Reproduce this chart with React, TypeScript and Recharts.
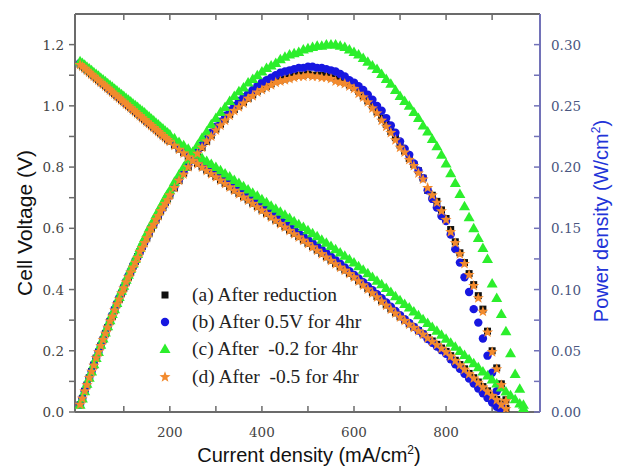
import React from "react";
import { ScatterChart, Scatter, XAxis, YAxis, Legend, Label } from "recharts";

// current density grid (mA/cm2)
const CURRENT = [
  5, 10, 15, 20, 25, 30, 35, 40, 45, 50, 55, 60, 65, 70, 75, 80, 85, 90, 95, 100,
  105, 110, 115, 120, 125, 130, 135, 140, 145, 150, 155, 160, 165, 170, 175, 180, 185, 190, 195, 200,
  210, 220, 230, 240, 250, 260, 270, 280, 290, 300, 310, 320, 330, 340, 350, 360, 370, 380, 390, 400,
  410, 420, 430, 440, 450, 460, 470, 480, 490, 500, 510, 520, 530, 540, 550, 560, 570, 580, 590, 600,
  610, 620, 630, 640, 650, 660, 670, 680, 690, 700, 710, 720, 730, 740, 750, 760, 770, 780, 790, 800,
  810, 820, 830, 840, 850, 860, 870, 880, 890, 900, 910, 920, 930,
];
const CURRENT_C_TAIL = [940, 950, 960, 968];

// (a) after reduction
const VOLT_A = [
  1.136, 1.13, 1.124, 1.117, 1.111, 1.104, 1.098, 1.091, 1.085, 1.078, 1.072, 1.066, 1.059, 1.053, 1.046, 1.04, 1.033, 1.027, 1.02, 1.014,
  1.007, 1.001, 0.995, 0.988, 0.982, 0.975, 0.969, 0.962, 0.956, 0.949, 0.943, 0.937, 0.93, 0.924, 0.917, 0.911, 0.904, 0.898, 0.891, 0.885,
  0.872, 0.859, 0.847, 0.834, 0.823, 0.812, 0.801, 0.79, 0.779, 0.769, 0.758, 0.747, 0.736, 0.725, 0.714, 0.703, 0.693, 0.682, 0.671, 0.66,
  0.649, 0.638, 0.627, 0.616, 0.605, 0.594, 0.583, 0.573, 0.562, 0.551, 0.54, 0.529, 0.518, 0.507, 0.496, 0.485, 0.474, 0.464, 0.453, 0.442,
  0.429, 0.416, 0.403, 0.39, 0.377, 0.363, 0.35, 0.337, 0.324, 0.311, 0.3, 0.288, 0.277, 0.266, 0.255, 0.243, 0.232, 0.221, 0.209, 0.198,
  0.184, 0.169, 0.155, 0.141, 0.126, 0.112, 0.098, 0.083, 0.069, 0.055, 0.041, 0.026, 0.012,
];
const POWER_A = [
  0.006, 0.011, 0.017, 0.022, 0.028, 0.033, 0.038, 0.044, 0.049, 0.054, 0.059, 0.064, 0.069, 0.074, 0.078, 0.083, 0.088, 0.092, 0.097, 0.101,
  0.106, 0.11, 0.114, 0.119, 0.123, 0.127, 0.131, 0.135, 0.139, 0.142, 0.146, 0.15, 0.153, 0.157, 0.16, 0.164, 0.167, 0.171, 0.174, 0.177,
  0.183, 0.189, 0.195, 0.2, 0.206, 0.211, 0.216, 0.221, 0.226, 0.231, 0.235, 0.239, 0.243, 0.247, 0.25, 0.253, 0.256, 0.259, 0.262, 0.264,
  0.266, 0.268, 0.27, 0.271, 0.272, 0.273, 0.274, 0.275, 0.275, 0.276, 0.275, 0.275, 0.275, 0.274, 0.273, 0.272, 0.27, 0.269, 0.267, 0.265,
  0.262, 0.258, 0.254, 0.25, 0.245, 0.24, 0.235, 0.229, 0.224, 0.218, 0.213, 0.207, 0.202, 0.197, 0.191, 0.181, 0.177, 0.172, 0.165, 0.158,
  0.149, 0.139, 0.13, 0.122, 0.113, 0.104, 0.095, 0.084, 0.066, 0.05, 0.036, 0.023, 0.01,
];

// (b) after 0.5V for 4hr
const VOLT_B = [
  1.14, 1.134, 1.128, 1.121, 1.115, 1.108, 1.102, 1.095, 1.089, 1.082, 1.076, 1.07, 1.063, 1.057, 1.05, 1.044, 1.037, 1.031, 1.024, 1.018,
  1.011, 1.005, 0.999, 0.992, 0.986, 0.979, 0.973, 0.966, 0.96, 0.953, 0.947, 0.941, 0.934, 0.928, 0.921, 0.915, 0.908, 0.902, 0.895, 0.889,
  0.877, 0.864, 0.852, 0.84, 0.829, 0.818, 0.808, 0.797, 0.787, 0.777, 0.766, 0.756, 0.746, 0.735, 0.725, 0.714, 0.704, 0.693, 0.683, 0.672,
  0.661, 0.651, 0.64, 0.629, 0.618, 0.607, 0.596, 0.585, 0.574, 0.563, 0.552, 0.541, 0.53, 0.519, 0.507, 0.496, 0.484, 0.472, 0.46, 0.448,
  0.436, 0.424, 0.411, 0.398, 0.385, 0.372, 0.358, 0.344, 0.33, 0.316, 0.303, 0.291, 0.278, 0.266, 0.254, 0.238, 0.226, 0.214, 0.202, 0.19,
  0.172, 0.156, 0.141, 0.125, 0.109, 0.093, 0.077, 0.061, 0.046, 0.031, 0.017, 0.005,
];
const POWER_B = [
  0.006, 0.011, 0.017, 0.022, 0.028, 0.033, 0.039, 0.044, 0.049, 0.054, 0.059, 0.064, 0.069, 0.074, 0.079, 0.084, 0.088, 0.093, 0.097, 0.102,
  0.106, 0.111, 0.115, 0.119, 0.123, 0.127, 0.131, 0.135, 0.139, 0.143, 0.147, 0.151, 0.154, 0.158, 0.161, 0.165, 0.168, 0.171, 0.175, 0.178,
  0.184, 0.19, 0.196, 0.202, 0.207, 0.213, 0.218, 0.223, 0.228, 0.233, 0.237, 0.242, 0.246, 0.25, 0.254, 0.257, 0.26, 0.263, 0.266, 0.269,
  0.271, 0.273, 0.275, 0.277, 0.278, 0.279, 0.28, 0.281, 0.281, 0.282, 0.282, 0.281, 0.281, 0.28, 0.279, 0.278, 0.276, 0.274, 0.271, 0.269,
  0.266, 0.263, 0.259, 0.255, 0.25, 0.246, 0.24, 0.234, 0.228, 0.221, 0.215, 0.21, 0.203, 0.197, 0.191, 0.181, 0.174, 0.167, 0.16, 0.156,
  0.145, 0.133, 0.122, 0.11, 0.098, 0.084, 0.073, 0.06, 0.046, 0.032, 0.017, 0.005,
];

// (c) after -0.2 for 4hr
const VOLT_C = [
  1.146, 1.14, 1.134, 1.128, 1.122, 1.116, 1.11, 1.104, 1.098, 1.092, 1.086, 1.08, 1.074, 1.068, 1.062, 1.056, 1.05, 1.044, 1.038, 1.032,
  1.026, 1.02, 1.014, 1.008, 1.002, 0.996, 0.99, 0.984, 0.978, 0.971, 0.965, 0.958, 0.952, 0.945, 0.939, 0.932, 0.926, 0.919, 0.913, 0.906,
  0.894, 0.882, 0.871, 0.86, 0.85, 0.84, 0.83, 0.82, 0.81, 0.8, 0.79, 0.779, 0.769, 0.758, 0.748, 0.737, 0.727, 0.716, 0.706, 0.695,
  0.685, 0.674, 0.664, 0.654, 0.644, 0.634, 0.623, 0.613, 0.604, 0.594, 0.584, 0.574, 0.563, 0.553, 0.542, 0.532, 0.521, 0.51, 0.499, 0.488,
  0.476, 0.465, 0.453, 0.441, 0.429, 0.417, 0.405, 0.392, 0.378, 0.365, 0.353, 0.341, 0.328, 0.316, 0.303, 0.291, 0.278, 0.265, 0.252, 0.239,
  0.226, 0.213, 0.199, 0.186, 0.172, 0.159, 0.146, 0.132, 0.119, 0.106, 0.093, 0.08, 0.067, 0.055, 0.042, 0.028, 0.013,
];
const POWER_C = [
  0.006, 0.011, 0.017, 0.023, 0.028, 0.033, 0.039, 0.044, 0.049, 0.055, 0.06, 0.065, 0.07, 0.075, 0.08, 0.084, 0.089, 0.094, 0.099, 0.103,
  0.108, 0.112, 0.117, 0.121, 0.125, 0.129, 0.134, 0.138, 0.142, 0.146, 0.15, 0.153, 0.157, 0.161, 0.164, 0.168, 0.171, 0.175, 0.178, 0.181,
  0.188, 0.194, 0.2, 0.206, 0.212, 0.218, 0.224, 0.229, 0.235, 0.24, 0.245, 0.249, 0.254, 0.258, 0.262, 0.265, 0.269, 0.272, 0.275, 0.278,
  0.281, 0.283, 0.285, 0.288, 0.29, 0.292, 0.293, 0.294, 0.296, 0.297, 0.298, 0.299, 0.299, 0.3, 0.3, 0.3, 0.299, 0.298, 0.296, 0.294,
  0.292, 0.289, 0.286, 0.283, 0.28, 0.276, 0.272, 0.268, 0.263, 0.258, 0.254, 0.25, 0.245, 0.24, 0.234, 0.229, 0.223, 0.217, 0.21, 0.203,
  0.195, 0.187, 0.178, 0.168, 0.159, 0.15, 0.142, 0.134, 0.125, 0.105, 0.093, 0.08, 0.066, 0.048, 0.031, 0.019, 0.006,
];

// (d) after -0.5 for 4hr
const VOLT_D = [
  1.134, 1.128, 1.122, 1.115, 1.109, 1.102, 1.096, 1.089, 1.083, 1.076, 1.07, 1.064, 1.057, 1.051, 1.044, 1.038, 1.031, 1.025, 1.018, 1.012,
  1.005, 0.999, 0.993, 0.986, 0.98, 0.973, 0.967, 0.96, 0.954, 0.947, 0.941, 0.935, 0.928, 0.922, 0.915, 0.909, 0.902, 0.896, 0.889, 0.883,
  0.87, 0.857, 0.845, 0.832, 0.821, 0.81, 0.799, 0.788, 0.777, 0.767, 0.756, 0.745, 0.734, 0.723, 0.712, 0.701, 0.691, 0.68, 0.669, 0.658,
  0.647, 0.636, 0.625, 0.614, 0.603, 0.592, 0.581, 0.571, 0.56, 0.549, 0.538, 0.527, 0.516, 0.505, 0.494, 0.483, 0.472, 0.462, 0.451, 0.44,
  0.427, 0.414, 0.401, 0.388, 0.375, 0.361, 0.348, 0.335, 0.322, 0.309, 0.298, 0.286, 0.275, 0.264, 0.253, 0.241, 0.23, 0.219, 0.207, 0.196,
  0.182, 0.167, 0.153, 0.139, 0.124, 0.11, 0.096, 0.081, 0.067, 0.053, 0.039, 0.024, 0.01,
];
const POWER_D = [
  0.006, 0.011, 0.017, 0.022, 0.028, 0.033, 0.038, 0.044, 0.049, 0.054, 0.059, 0.064, 0.069, 0.074, 0.078, 0.083, 0.088, 0.092, 0.097, 0.101,
  0.106, 0.11, 0.114, 0.118, 0.122, 0.126, 0.131, 0.134, 0.138, 0.142, 0.146, 0.15, 0.153, 0.157, 0.16, 0.164, 0.167, 0.17, 0.173, 0.177,
  0.183, 0.189, 0.194, 0.2, 0.205, 0.211, 0.216, 0.221, 0.225, 0.23, 0.234, 0.238, 0.242, 0.246, 0.249, 0.252, 0.256, 0.258, 0.261, 0.263,
  0.265, 0.267, 0.269, 0.27, 0.271, 0.272, 0.273, 0.274, 0.274, 0.275, 0.274, 0.274, 0.273, 0.273, 0.272, 0.27, 0.269, 0.268, 0.266, 0.264,
  0.26, 0.257, 0.253, 0.248, 0.244, 0.238, 0.233, 0.228, 0.222, 0.216, 0.212, 0.206, 0.201, 0.195, 0.19, 0.183, 0.177, 0.171, 0.164, 0.157,
  0.147, 0.138, 0.129, 0.121, 0.112, 0.103, 0.093, 0.082, 0.065, 0.049, 0.035, 0.022, 0.009,
];

const X_DOMAIN = [-6, 1004];
const X_TICKS = [100, 200, 300, 400, 500, 600, 700, 800, 900];
const V_TICKS = [0, 0.1, 0.2, 0.3, 0.4, 0.5, 0.6, 0.7, 0.8, 0.9, 1.0, 1.1, 1.2];
const P_TICKS = [0, 0.025, 0.05, 0.075, 0.1, 0.125, 0.15, 0.175, 0.2, 0.225, 0.25, 0.275, 0.3];

const LABELS = [
  "(a) After reduction",
  "(b) After 0.5V for 4hr",
  "(c) After  -0.2 for 4hr",
  "(d) After  -0.5 for 4hr",
];

const zip = (xs: number[], ys: number[]) => ys.map((y, i) => ({ x: xs[i], y }));
const CURRENT_C = [...CURRENT, ...CURRENT_C_TAIL];

const SERIES = [
  { label: LABELS[0], kind: "square", color: "#111111", volt: zip(CURRENT, VOLT_A), power: zip(CURRENT, POWER_A) },
  { label: LABELS[1], kind: "circle", color: "#1717e0", volt: zip(CURRENT, VOLT_B), power: zip(CURRENT, POWER_B) },
  { label: LABELS[2], kind: "triangle", color: "#2cee2c", volt: zip(CURRENT_C, VOLT_C), power: zip(CURRENT_C, POWER_C) },
  { label: LABELS[3], kind: "star", color: "#f28a2e", volt: zip(CURRENT, VOLT_D), power: zip(CURRENT, POWER_D) },
];

const CHART_W = 624;
const CHART_H = 466;
const Y_AXIS_W = 60;
const MARGIN = { top: 14, right: 24, bottom: 14, left: 15 };
const PLOT_LEFT = MARGIN.left + Y_AXIS_W;
const PLOT_RIGHT = CHART_W - MARGIN.right - Y_AXIS_W;
const frame = "#6b6b6b";
const serif = "'DejaVu Serif', serif";
const sans = "'Liberation Sans', Arial, sans-serif";

function starPoints(cx: number, cy: number, ro: number, ri: number) {
  const pts = [];
  for (let i = 0; i < 10; i++) {
    const r = i % 2 === 0 ? ro : ri;
    const a = -Math.PI / 2 + (i * Math.PI) / 5;
    pts.push(`${cx + r * Math.cos(a)},${cy + r * Math.sin(a)}`);
  }
  return pts.join(" ");
}

function Marker({ kind, cx, cy, color }: any) {
  if (cx == null || cy == null || isNaN(cx) || isNaN(cy)) return <g />;
  if (kind === "square") return <rect x={cx - 3.5} y={cy - 3.5} width={7} height={7} fill={color} />;
  if (kind === "circle") return <circle cx={cx} cy={cy} r={4.2} fill={color} />;
  if (kind === "triangle")
    return <polygon points={`${cx},${cy - 5.5} ${cx + 5.5},${cy + 4} ${cx - 5.5},${cy + 4}`} fill={color} />;
  return <polygon points={starPoints(cx, cy, 5.8, 2.4)} fill={color} />;
}

function LeftTick({ x, y, payload }: any) {
  const major = Math.round(payload.value * 10) % 2 === 0;
  if (!major) return <g />;
  return (
    <text x={x} y={y} dy={5} textAnchor="end" fontFamily={serif} fontSize={13.5} fill="#444">
      {payload.value.toFixed(1)}
    </text>
  );
}

function RightTick({ x, y, payload }: any) {
  const major = Math.round(payload.value * 1000) % 50 === 0;
  if (!major) return <g />;
  return (
    <text x={x} y={y} dy={5} textAnchor="start" fontFamily={serif} fontSize={13.5} fill="#4a5680">
      {payload.value.toFixed(2)}
    </text>
  );
}

function BottomTick({ x, y, payload }: any) {
  if (payload.value % 200 !== 0) return <g />;
  return (
    <text x={x} y={y} dy={11} textAnchor="middle" fontFamily={serif} fontSize={13.5} fill="#444">
      {payload.value}
    </text>
  );
}

// x-axis title plus the top edge of the frame (same ticks as the bottom axis, pointing down)
function BottomTitle() {
  const top = MARGIN.top;
  const width = PLOT_RIGHT - PLOT_LEFT;
  const px = (t: number) => PLOT_LEFT + ((t - X_DOMAIN[0]) / (X_DOMAIN[1] - X_DOMAIN[0])) * width;
  return (
    <g>
      <line x1={PLOT_LEFT} x2={PLOT_RIGHT} y1={top} y2={top} stroke={frame} strokeWidth={2} />
      {X_TICKS.map((t) => (
        <line key={t} x1={px(t)} x2={px(t)} y1={top} y2={top + 6} stroke={frame} strokeWidth={1.5} />
      ))}
      <text x={309} y={462} textAnchor="middle" fontFamily={sans} fontSize={20} fill="#111">
        Current density (mA/cm<tspan dy={-8} fontSize={12}>2</tspan>
        <tspan dy={8}>)</tspan>
      </text>
    </g>
  );
}

function renderLegend() {
  return (
    <div style={{ fontFamily: "'Liberation Serif', serif", fontSize: 19.5, color: "#222" }}>
      {SERIES.map((s) => (
        <div key={s.label} style={{ display: "flex", alignItems: "center", height: 27.4 }}>
          <svg width={16} height={16}>
            <Marker kind={s.kind} cx={8} cy={8} color={s.color} />
          </svg>
          <span style={{ marginLeft: 19, whiteSpace: "pre" }}>{s.label}</span>
        </div>
      ))}
    </div>
  );
}

export default function App() {
  return (
    <div style={{ position: "absolute", left: 0, top: 0, background: "#fff" }}>
      <ScatterChart width={CHART_W} height={CHART_H} margin={MARGIN}>
        <XAxis
          xAxisId="bottom"
          dataKey="x"
          type="number"
          domain={X_DOMAIN}
          ticks={X_TICKS}
          tick={<BottomTick />}
          tickSize={-6}
          tickMargin={20}
          height={40}
          axisLine={{ stroke: frame, strokeWidth: 2 }}
          tickLine={{ stroke: frame, strokeWidth: 1.5 }}
          allowDataOverflow
        >
          <Label content={BottomTitle} />
        </XAxis>
        <YAxis
          yAxisId="left"
          dataKey="y"
          type="number"
          domain={[0, 1.3]}
          ticks={V_TICKS}
          tick={<LeftTick />}
          tickSize={6}
          tickMargin={5}
          width={Y_AXIS_W}
          axisLine={{ stroke: frame, strokeWidth: 2 }}
          tickLine={{ stroke: frame, strokeWidth: 1.5 }}
          allowDataOverflow
        >
          <Label
            content={() => (
              <text
                x={32}
                y={223}
                transform="rotate(-90 32 223)"
                textAnchor="middle"
                fontFamily={sans}
                fontSize={21}
                fill="#111"
              >
                Cell Voltage (V)
              </text>
            )}
          />
        </YAxis>
        <YAxis
          yAxisId="right"
          orientation="right"
          dataKey="y"
          type="number"
          domain={[0, 0.325]}
          ticks={P_TICKS}
          tick={<RightTick />}
          tickSize={-6}
          tickMargin={17}
          width={Y_AXIS_W}
          axisLine={{ stroke: "#7272b8", strokeWidth: 2 }}
          tickLine={{ stroke: "#7272b8", strokeWidth: 1.5 }}
          allowDataOverflow
        >
          <Label
            content={() => (
              <text
                x={608}
                y={221}
                transform="rotate(-90 608 221)"
                textAnchor="middle"
                fontFamily={sans}
                fontSize={20}
                fill="#2233d8"
              >
                Power density (W/cm<tspan dy={-8} fontSize={12}>2</tspan>
                <tspan dy={8}>)</tspan>
              </text>
            )}
          />
        </YAxis>
        {SERIES.map((s) => [
          <Scatter
            key={s.label + "-v"}
            name={s.label}
            data={s.volt}
            xAxisId="bottom"
            yAxisId="left"
            isAnimationActive={false}
            legendType="none"
            shape={(p: any) => <Marker kind={s.kind} cx={p.cx} cy={p.cy} color={s.color} />}
          />,
          <Scatter
            key={s.label + "-p"}
            name={s.label + " power"}
            data={s.power}
            xAxisId="bottom"
            yAxisId="right"
            isAnimationActive={false}
            legendType="none"
            shape={(p: any) => <Marker kind={s.kind} cx={p.cx} cy={p.cy} color={s.color} />}
          />,
        ])}
        <Legend
          content={renderLegend}
          layout="vertical"
          align="center"
          verticalAlign="middle"
          wrapperStyle={{ left: 157, top: 281, width: 260 }}
        />
      </ScatterChart>
    </div>
  );
}
